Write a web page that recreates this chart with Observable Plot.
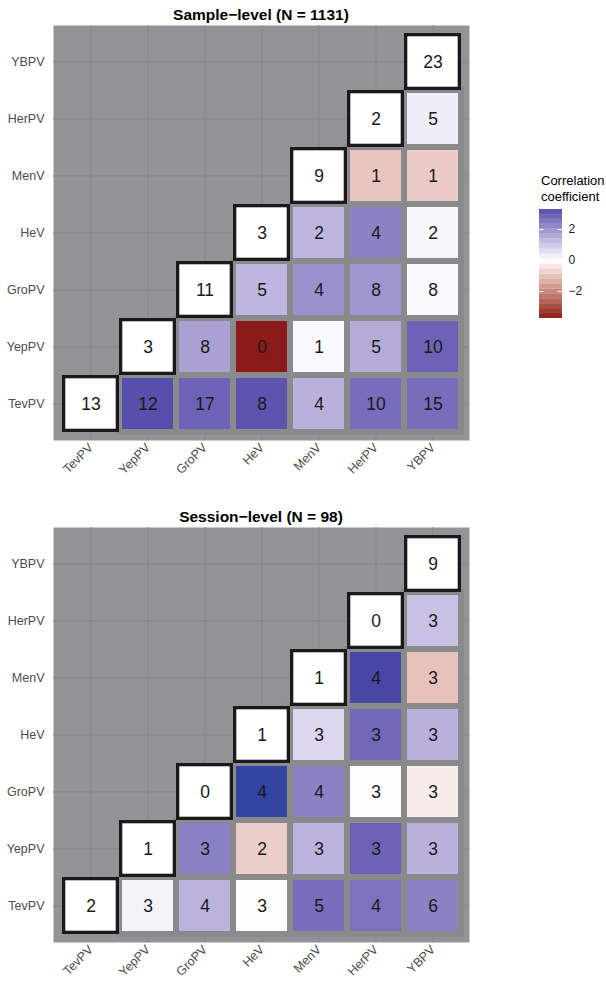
<!DOCTYPE html>
<html>
<head>
<meta charset="utf-8">
<script src="https://cdn.jsdelivr.net/npm/d3@7"></script>
<script src="https://cdn.jsdelivr.net/npm/@observablehq/plot@0.6"></script>
<style>
  html, body { margin: 0; padding: 0; background: #fff; }
  #root { position: relative; width: 606px; height: 995px; font-family: "Liberation Sans", Arial, sans-serif; overflow: hidden; }
  .ttl { position: absolute; left: 0; width: 522px; text-align: center; font-weight: bold; font-size: 15.5px; line-height: 18px; color: #000; }
  .leg-title { position: absolute; left: 541px; top: 173px; font-size: 13px; line-height: 16px; color: #000; }
  .abs { position: absolute; }
</style>
</head>
<body>
<div id="root"></div>
<script>
// Variables (x left→right, y bottom→top)
const vars = ["TevPV", "YepPV", "GroPV", "HeV", "MenV", "HerPV", "YBPV"];

// Sample-level: counts per row (row = y variable, starting at the diagonal)
const sampleN = [
  [13, 12, 17, 8, 4, 10, 15],
  [3, 8, 0, 1, 5, 10],
  [11, 5, 4, 8, 8],
  [3, 2, 4, 2],
  [9, 1, 1],
  [2, 5],
  [23]
];
// Sample-level: correlation coefficients (diagonal has none)
const sampleR = [
  [null, 3.3, 2.9, 3.2, 1.4, 2.7, 2.7],
  [null, 1.7, -3.75, 0.1, 1.5, 2.9],
  [null, 1.3, 2.0, 1.9, 0.08],
  [null, 1.3, 2.3, 0.15],
  [null, -0.95, -0.85],
  [null, 0.3],
  [null]
];

// Session-level counts
const sessionN = [
  [2, 3, 4, 3, 5, 4, 6],
  [1, 3, 2, 3, 3, 3],
  [0, 4, 4, 3, 3],
  [1, 3, 3, 3],
  [1, 4, 3],
  [0, 3],
  [9]
];
// Session-level correlation coefficients
const sessionR = [
  [null, 0.2, 1.35, -0.05, 2.7, 2.6, 2.3],
  [null, 2.3, -0.8, 1.35, 2.9, 1.4],
  [null, 5.0, 2.3, -0.05, -0.3],
  [null, 0.7, 2.8, 1.4],
  [null, 3.6, -1.0],
  [null, 1.1],
  [null]
];

const titles = ["Sample\u2212level (N = 1131)", "Session\u2212level (N = 98)"];
const legendTicks = [-2, 0, 2];
const legendRange = [-3.75, 3.3];

const colorScale = {
  type: "linear",
  domain: [-3.75, 0, 3.5, 5.2],
  range: ["#8B1A1A", "#FFFFFF", "#4B46A6", "#2E45A3"],
  interpolate: "lab"
};

const root = document.getElementById("root");
const font = '"Liberation Sans", Arial, sans-serif';

function buildRows(nRows, rRows) {
  const rows = [];
  vars.forEach((yv, i) => {
    nRows[i].forEach((n, k) => {
      rows.push({x: vars[i + k], y: yv, n, r: rRows[i][k], diag: k === 0});
    });
  });
  return rows;
}

function heat(nRows, rRows) {
  const rows = buildRows(nRows, rRows);
  return Plot.plot({
    width: 480, height: 490,
    marginTop: 25, marginBottom: 50, marginLeft: 53, marginRight: 11,
    style: {fontFamily: font, fontSize: "12.5px", background: "transparent", overflow: "visible"},
    x: {type: "band", domain: vars, padding: 0, insetLeft: 6, insetRight: 6},
    y: {type: "band", domain: vars.slice().reverse(), padding: 0, insetTop: 6.5, insetBottom: 6.5},
    color: colorScale,
    marks: [
      Plot.frame({fill: "#939498", stroke: null}),
      Plot.gridX({stroke: "#86878a", strokeOpacity: 1, strokeWidth: 1}),
      Plot.gridY({stroke: "#86878a", strokeOpacity: 1, strokeWidth: 1}),
      Plot.cell(rows.filter(d => !d.diag), {x: "x", y: "y", fill: "r", stroke: "#8a8a8c", strokeWidth: 6, inset: 0}),
      Plot.cell(rows.filter(d => d.diag), {x: "x", y: "y", fill: "white", stroke: "#1a1a1a", strokeWidth: 3.3, inset: 1.65}),
      Plot.text(rows, {x: "x", y: "y", text: "n", fontSize: 17.5, fill: "#1a1a1a"}),
      Plot.axisX({tickRotate: -45, tickSize: 0, tickPadding: 5, fontSize: 12.5, color: "#4d4d4d", label: null}),
      Plot.axisY({tickSize: 0, tickPadding: 9, fontSize: 12.5, color: "#4d4d4d", label: null})
    ]
  });
}

function place(el, left, top) {
  el.classList.add("abs");
  el.style.left = left + "px";
  el.style.top = top + "px";
  root.appendChild(el);
}

// Titles
[[titles[0], 6], [titles[1], 508]].forEach(([t, top]) => {
  const d = document.createElement("div");
  d.className = "ttl";
  d.style.top = top + "px";
  d.textContent = t;
  root.appendChild(d);
});

place(heat(sampleN, sampleR), 0, 0);
place(heat(sessionN, sessionR), 0, 502);

// Legend
const nb = 22;
const step = (legendRange[1] - legendRange[0]) / nb;
const bands = d3.range(nb).map(i => ({
  lo: legendRange[0] + i * step,
  hi: legendRange[0] + (i + 1) * step,
  mid: legendRange[0] + (i + 0.5) * step
}));
const legend = Plot.plot({
  width: 70, height: 130,
  marginTop: 9, marginBottom: 12, marginLeft: 9, marginRight: 38,
  style: {fontFamily: font, fontSize: "12px", background: "transparent", overflow: "visible"},
  x: {domain: [0, 1], axis: null},
  y: {domain: legendRange},
  color: colorScale,
  marks: [
    Plot.rect(bands, {x1: 0, x2: 1, y1: "lo", y2: "hi", fill: "mid", inset: 0}),
    Plot.ruleY(legendTicks, {x1: 0, x2: 0.2, stroke: "white", strokeWidth: 1}),
    Plot.ruleY(legendTicks, {x1: 0.8, x2: 1, stroke: "white", strokeWidth: 1}),
    Plot.axisY({anchor: "right", ticks: legendTicks, tickSize: 0, tickPadding: 6, fontSize: 12, color: "#222",
      tickFormat: d => d < 0 ? "\u2212" + Math.abs(d) : String(d), label: null})
  ]
});
place(legend, 530, 200);

const lt = document.createElement("div");
lt.className = "leg-title";
lt.innerHTML = "Correlation<br>coefficient";
root.appendChild(lt);
</script>
</body>
</html>
